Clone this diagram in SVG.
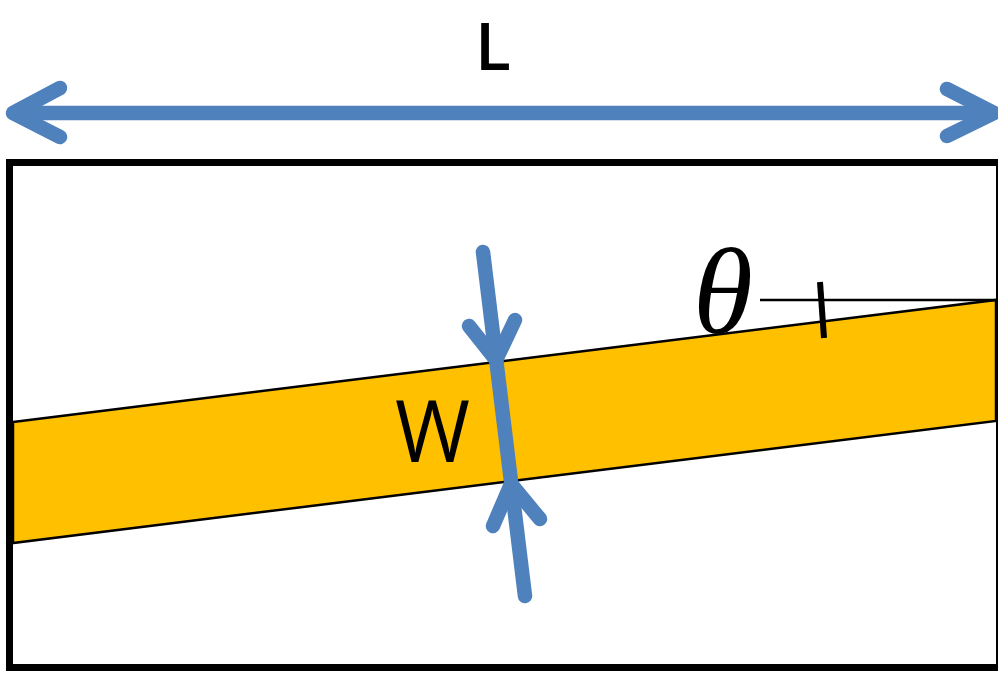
<svg xmlns="http://www.w3.org/2000/svg" width="998" height="675" viewBox="0 0 998 675">
<style>
.arr{fill:none;stroke:#4F81BD;stroke-width:14.5;stroke-linecap:round;stroke-linejoin:round}
.lbl{font-family:"Open Sans","Liberation Sans",sans-serif;fill:#000}
</style>
<rect width="998" height="675" fill="#fff"/>
<g id="frame">
<rect x="9.5" y="162.5" width="990" height="505" fill="#fff" stroke="#000" stroke-width="7"/>
</g>
<g id="strip">
<polygon points="13,422 996,300 996,421 13,543" fill="#FFC000" stroke="#000" stroke-width="2.5"/>
</g>
<g id="angle">
<line x1="760" y1="300" x2="996" y2="300" stroke="#000" stroke-width="2.5"/>
<line x1="820" y1="282" x2="824" y2="338" stroke="#000" stroke-width="6"/>
<text x="693" y="333" font-family="'Liberation Serif',serif" font-style="italic" font-size="122">θ</text>
</g>
<g id="connectors">
<g id="length-arrow">
<line class="arr" x1="14" y1="113" x2="992" y2="113"/>
<polyline class="arr" points="60,88 13,113 60,137"/>
<polyline class="arr" points="947,89 994,113 947,136"/>
</g>
<g id="width-arrow">
<line class="arr" x1="483" y1="252" x2="525" y2="596"/>
<polyline class="arr" points="469,326 496,360 515,320"/>
<polyline class="arr" points="493,526 511,484 540,519"/>
</g>
</g>
<g id="labels">
<text class="lbl" x="475" y="70" font-size="66" font-weight="600">L</text>
<text class="lbl" x="395" y="462" font-size="86" textLength="75" lengthAdjust="spacingAndGlyphs">W</text>
</g>
</svg>
